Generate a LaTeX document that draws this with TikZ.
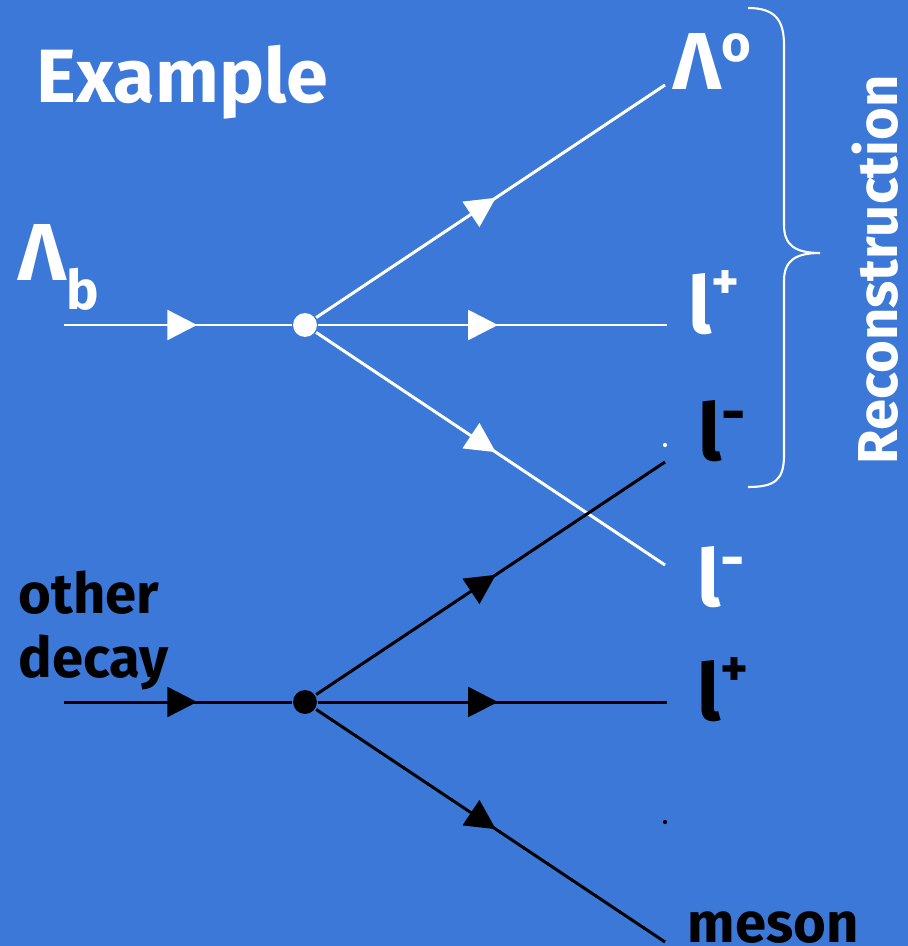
\documentclass[tikz,border=0pt]{standalone}
\usepackage{fontspec}
\setmainfont{Fira Sans}
\definecolor{slideblue}{RGB}{59, 120, 216}
\usetikzlibrary{arrows.meta, decorations.markings, positioning}

% lepton with a charge sign: size, raise, sign
\newcommand{\lepton}[3]{l\raisebox{#2}{\fontsize{#1}{#1}\selectfont #3}}

\begin{document}
\begin{tikzpicture}[x=0.02cm, y=-0.02cm, line width=1.7pt,
	particle/.style={postaction={decorate}, decoration={markings,
		mark=at position #1 with {\arrow{Triangle[length=17pt,width=17pt]}}}},
	particle/.default=0.515,
	vertex/.style={circle, fill, inner sep=0pt, minimum size=13.6pt},
	lbl/.style={inner sep=0pt, anchor=base west, font=\bfseries\fontsize{45}{45}\selectfont}]

	\fill[slideblue] (0,0) rectangle (908,946);

	\node[lbl, white, font=\bfseries\fontsize{43}{43}\selectfont] (title) at (35,103) {Example};

	% signal decay
	\begin{scope}[white]
		\coordinate (inA) at (64,325);
		\node[vertex] (vA) at (305,325) {};
		\coordinate (lam) at (665,85);
		\coordinate (lpA) at (667,325);
		\coordinate (lmA) at (665,565);
		\draw[particle=0.585] (inA) -- (vA);
		\foreach \p in {lam,lpA,lmA}
			\draw[particle] (vA) -- (\p);
		\fill (665,445) circle[radius=1.2pt];
	\end{scope}

	% other decay
	\coordinate (inB) at (64,702);
	\node[vertex] (vB) at (305,702) {};
	\coordinate (lmB) at (665,462);
	\coordinate (lpB) at (667,702);
	\coordinate (mes) at (665,942);
	\draw[particle=0.585] (inB) -- (vB);
	\foreach \p in {lmB,lpB,mes}
		\draw[particle] (vB) -- (\p);
	\fill (665,822) circle[radius=1.2pt];

	% labels
	\node[lbl, white, font=\bfseries\fontsize{46}{46}\selectfont] (lamb) at (17,280)
		{Λ\raisebox{-17pt}{\fontsize{31}{31}\selectfont b}};
	\node[lbl, white, font=\bfseries\fontsize{46}{46}\selectfont] (lamlbl) at (672,90)
		{Λ\raisebox{16pt}{\fontsize{29}{29}\selectfont o}};
	\node[lbl, white] (lpAlbl) at (687,333) {\lepton{30}{19pt}{+}};
	\node[lbl] (lmBlbl) at (697,460) {\lepton{34}{15pt}{-}};
	\node[lbl, white] (lmAlbl) at (696,606) {\lepton{34}{15pt}{-}};
	\node[lbl] (lpBlbl) at (696,720) {\lepton{30}{19pt}{+}};
	\node[lbl, font=\bfseries\fontsize{32}{32}\selectfont] (meson) at (686,942) {meson};
	\node[lbl, align=left, font=\bfseries\fontsize{32}{36.3}\selectfont] (other) at (17,677) {other\\decay};

	% reconstructed part
	\draw[white, line width=1.2pt] (748,8) .. controls (775,8) and (784,20) .. (784,45)
		-- (784,225) .. controls (784,245) and (795,253) .. (820,253)
		.. controls (795,253) and (784,261) .. (784,281)
		-- (784,455) .. controls (784,480) and (775,487) .. (748,487);
	\node[white, inner sep=0pt, rotate=90, anchor=base west,
		font=\bfseries\fontsize{32}{32}\selectfont] (reco) at (897,466) {Reconstruction};
\end{tikzpicture}
\end{document}
